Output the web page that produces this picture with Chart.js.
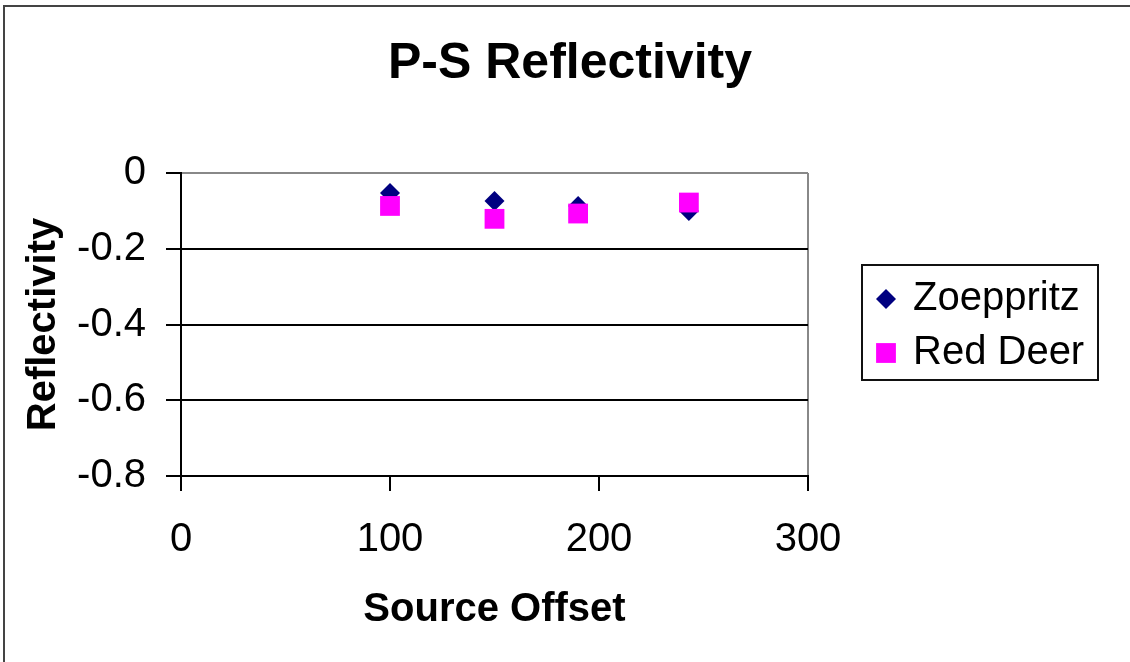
<!DOCTYPE html>
<html>
<head>
<meta charset="utf-8">
<title>P-S Reflectivity</title>
<script src="https://cdn.jsdelivr.net/npm/chart.js@4/dist/chart.umd.min.js"></script>
<style>
  html, body { margin: 0; padding: 0; background: #fff; }
  canvas { display: block; }
</style>
</head>
<body>
<canvas id="chart" width="1130" height="662"></canvas>
<script>
// source offsets and reflectivity per model
const offsets = [100, 150, 190, 243];
const zoeppritz = [-0.053, -0.074, -0.087, -0.100];
const redDeer = [-0.087, -0.121, -0.107, -0.078];
const seriesNames = ['Zoeppritz', 'Red Deer'];
const chartTitle = 'P-S Reflectivity';

const FONT = "'Liberation Sans', Arial, sans-serif";

const toPoints = (xs, ys) => xs.map((x, i) => ({ x, y: ys[i] }));

// white background, outer frame (only left and top edges are in view) and title
const framePlugin = {
  id: 'frame',
  beforeDraw(chart) {
    const ctx = chart.ctx;
    ctx.save();
    ctx.fillStyle = '#fff';
    ctx.fillRect(0, 0, chart.width, chart.height);
    ctx.fillStyle = '#444';
    ctx.fillRect(3, 5, chart.width, 2);
    ctx.fillRect(3, 5, 2, chart.height);
    ctx.fillStyle = '#000';
    ctx.font = 'bold 50px ' + FONT;
    ctx.textAlign = 'center';
    ctx.textBaseline = 'middle';
    ctx.fillText(chartTitle, 570, 64);
    ctx.restore();
  }
};

// boxed legend to the right of the plot
const boxLegend = {
  id: 'boxLegend',
  afterDraw(chart) {
    const ctx = chart.ctx;
    const box = { x: 862, y: 265, w: 236, h: 115 };
    ctx.save();
    ctx.strokeStyle = '#111';
    ctx.lineWidth = 2;
    ctx.strokeRect(box.x, box.y, box.w, box.h);
    ctx.font = '40px ' + FONT;
    ctx.textBaseline = 'middle';
    ctx.textAlign = 'left';
    chart.data.datasets.forEach((ds, i) => {
      const cy = box.y + 34 + i * 54;
      const cx = box.x + 24;
      const r = ds.pointRadius;
      ctx.fillStyle = ds.backgroundColor;
      ctx.beginPath();
      if (ds.pointStyle === 'rectRot') {
        ctx.moveTo(cx, cy - r);
        ctx.lineTo(cx + r, cy);
        ctx.lineTo(cx, cy + r);
        ctx.lineTo(cx - r, cy);
      } else {
        const h = r * Math.SQRT1_2;
        ctx.rect(cx - h, cy - h, 2 * h, 2 * h);
      }
      ctx.closePath();
      ctx.fill();
      ctx.fillStyle = '#000';
      ctx.fillText(ds.label, box.x + 51, cy);
    });
    ctx.restore();
  }
};

new Chart(document.getElementById('chart'), {
  type: 'scatter',
  data: {
    datasets: [
      {
        label: seriesNames[0],
        data: toPoints(offsets, zoeppritz),
        pointStyle: 'rectRot',
        pointRadius: 10,
        backgroundColor: '#000080',
        borderWidth: 0,
        order: 1
      },
      {
        label: seriesNames[1],
        data: toPoints(offsets, redDeer),
        pointStyle: 'rect',
        pointRadius: 14,
        backgroundColor: '#ff00ff',
        borderWidth: 0,
        order: 0
      }
    ]
  },
  options: {
    responsive: false,
    animation: false,
    layout: { padding: { top: 173, right: 322, bottom: 0, left: 0 } },
    plugins: {
      legend: { display: false },
      tooltip: { enabled: false },
      title: { display: false }
    },
    scales: {
      x: {
        type: 'linear',
        min: 0,
        max: 300,
        afterFit: (scale) => { scale.height = 186; },
        border: { display: true, color: '#000', width: 2 },
        grid: {
          drawOnChartArea: true,
          color: (c) => (c.tick && c.tick.value === 300 ? '#888' : 'rgba(0,0,0,0)'),
          lineWidth: 2,
          tickColor: '#000',
          tickLength: 15,
          tickWidth: 2
        },
        ticks: {
          stepSize: 100,
          padding: 25,
          color: '#000',
          font: { family: FONT, size: 40 }
        },
        title: {
          display: true,
          text: 'Source Offset',
          color: '#000',
          font: { family: FONT, size: 40, weight: 'bold', lineHeight: 1.2 },
          padding: { top: 0, bottom: 28 }
        }
      },
      y: {
        type: 'linear',
        min: -0.8,
        max: 0,
        afterFit: (scale) => { scale.width = 181; },
        border: { display: true, color: '#000', width: 2 },
        grid: {
          color: (c) => (c.tick && c.tick.value === 0 ? '#888' : '#000'),
          lineWidth: 2,
          tickColor: '#000',
          tickLength: 15,
          tickWidth: 2
        },
        ticks: {
          stepSize: 0.2,
          padding: 20,
          color: '#000',
          font: { family: FONT, size: 40 },
          callback: (v) => String(Math.round(v * 10) / 10)
        },
        title: {
          display: true,
          text: 'Reflectivity',
          color: '#000',
          font: { family: FONT, size: 40, weight: 'bold', lineHeight: 1.2 },
          padding: { top: 20, bottom: 0 }
        }
      }
    }
  },
  plugins: [framePlugin, boxLegend]
});
</script>
</body>
</html>
